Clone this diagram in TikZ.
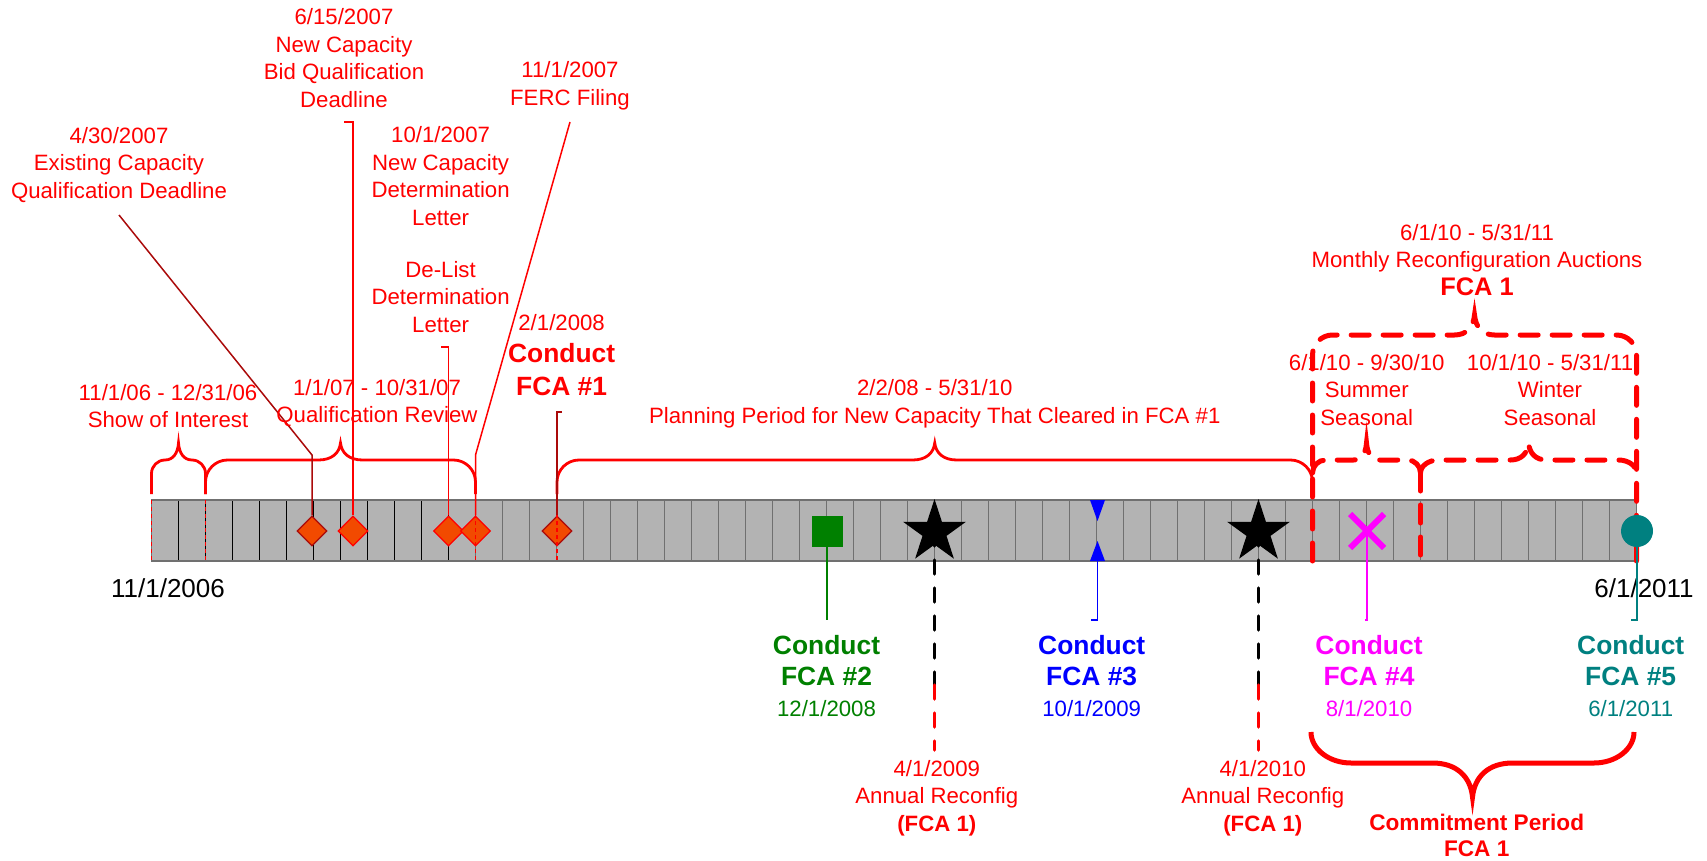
\documentclass[tikz,border=0pt]{standalone}
\usepackage{fontspec}
\setmainfont{Liberation Sans}
\usepackage{xcolor}
\usepackage{tikz}
\usetikzlibrary{shapes.geometric, shapes.misc, positioning}

\definecolor{fcared}{RGB}{255,0,0}
\definecolor{fcagreen}{RGB}{0,128,0}
\definecolor{fcablue}{RGB}{0,0,255}
\definecolor{fcamag}{RGB}{255,0,255}
\definecolor{fcateal}{RGB}{0,128,128}
\definecolor{barfill}{RGB}{179,179,179}
\definecolor{cellline}{RGB}{112,112,112}
\definecolor{diafill}{RGB}{242,74,0}
\definecolor{leaddark}{RGB}{170,10,10}

% curly brace: [style] x1 x2 ybase yflat ytip r
\newcommand{\tlbrace}[7][]{%
  \pgfmathsetmacro\bc{(#2+#3)/2}%
  \pgfmathsetmacro\bh{min(#7,abs(#4-#5))*ifthenelse(#4>#5,1,-1)}%
  \draw[#1] (#2,#4) -- (#2,{#5+(\bh)}) .. controls (#2,{#5+0.45*(\bh)}) and ({#2+0.45*#7},#5) .. ({#2+#7},#5)
    -- ({\bc-#7},#5) .. controls ({\bc-0.4*#7},#5) and ({\bc-0.05*#7},{#5+0.4*(#6-#5)}) .. (\bc,#6)
    .. controls ({\bc+0.05*#7},{#5+0.4*(#6-#5)}) and ({\bc+0.4*#7},#5) .. ({\bc+#7},#5)
    -- ({#3-#7},#5) .. controls ({#3-0.45*#7},#5) and (#3,{#5+0.45*(\bh)}) .. (#3,{#5+(\bh)}) -- (#3,#4);%
}

\begin{document}
\begin{tikzpicture}[x=0.5pt, y=-0.5pt,
    lbl/.style={text=fcared, align=center, inner sep=0pt, font=\fontsize{11.1}{13.75}\selectfont},
    datelbl/.style={text=black, inner sep=0pt, font=\fontsize{13}{15}\selectfont},
    conduct/.style={align=center, inner sep=0pt, font=\fontsize{13.2}{15.7}\selectfont\bfseries},
    lead/.style={fcared, line width=0.75pt},
    leaddk/.style={leaddark, line width=0.75pt},
    bracesolid/.style={fcared, line width=1.4pt},
    bracedash/.style={fcared, line width=2.5pt, line cap=round, dash pattern=on 9pt off 7pt},
    barend/.style={fcared, line width=0.6pt, dash pattern=on 2pt off 1.5pt},
    reconfig/.style={line width=1.75pt, line cap=round, dash pattern=on 7pt off 7pt},
    dia/.style={diamond, fill=diafill, draw=fcared, line width=0.6pt, minimum size=15pt, inner sep=0pt}]
    \useasboundingbox (0,0) rectangle (1707,861);

    % time bar, one cell a month
    \fill[barfill] (151.5,500) rectangle (1636.5,561);
    \foreach \m in {12,...,54} {
        \draw[cellline, line width=0.6pt] ({151.5+27*\m},500) -- ({151.5+27*\m},561);
    }
    \foreach \m in {1,...,11} {
        \draw[black, line width=0.7pt] ({151.5+27*\m},500) -- ({151.5+27*\m},561);
    }
    \draw[cellline, line width=0.7pt] (151.5,500) rectangle (1636.5,561);
    \node[datelbl] (tstart) at (168,588) {11/1/2006};
    \node[datelbl] (tend) at (1644,588) {6/1/2011};

    % braces over the bar
    \tlbrace[bracesolid]{151.5}{205.5}{494}{460}{443}{13.5}
    \tlbrace[bracesolid]{205.5}{475.5}{494}{460}{443}{22}
    \tlbrace[bracesolid]{557}{1312.5}{494}{460}{443}{22}
    \tlbrace[bracedash]{1312.5}{1636.5}{561}{335}{315}{20}
    \tlbrace[bracedash]{1312.5}{1420.5}{473}{460}{443}{13}
    \tlbrace[bracedash]{1420.5}{1636.5}{473}{460}{443}{18}
    \draw[bracedash] (1420.5,473) -- (1420.5,561);
    \tlbrace[fcared, line width=2.5pt]{1311}{1634}{732}{763}{797}{40}

    % qualification markers
    \node[dia, draw=leaddark] (d1) at (312,531) {};
    \node[dia] (d2) at (353,531) {};
    \node[dia] (d3) at (448.5,531) {};
    \node[dia] (d4) at (475.5,531) {};
    \node[dia, draw=leaddark] (d5) at (557,531) {};
    \foreach \x in {151.5,205.5,475.5,557} {
        \draw[barend] (\x,500) -- (\x,561);
    }

    \coordinate (exq) at (119,215);
    \coordinate (exb) at (312,455);
    \coordinate (bqh) at (344,122);
    \coordinate (fercq) at (570,122);
    \coordinate (fercb) at (475.5,455);
    \coordinate (dlh) at (441,347);
    \coordinate (f1h) at (561.5,412);
    \draw[leaddk] (exq) -- (exb) -- (d1);
    \draw[lead] (bqh) -| (d2);
    \draw[lead] (fercq) -- (fercb) -- (d4);
    \draw[lead] (dlh) -| (d3);
    \draw[leaddk] (f1h) -| (d5);

    \node[lbl] (exist) at (119,165) {4/30/2007\\Existing Capacity\\Qualification Deadline};
    \node[lbl] (bidq) at (344,58) {6/15/2007\\New Capacity\\Bid Qualification\\Deadline};
    \node[lbl] (ferc) at (570,86) {11/1/2007\\FERC Filing};
    \node[lbl] (ncdl) at (440.6,176) {10/1/2007\\New Capacity\\Determination\\Letter};
    \node[lbl] (delist) at (440.6,297) {De-List\\Determination\\Letter};
    \node[conduct, text=fcared, font=\fontsize{13.2}{16.3}\selectfont\bfseries] (fca1) at (561.6,355) {{\mdseries\fontsize{11.1}{13.75}\selectfont 2/1/2008}\\Conduct\\FCA \#1};
    \node[lbl] (show) at (168,406) {11/1/06 - 12/31/06\\Show of Interest};
    \node[lbl] (qualrev) at (377,403) {1/1/07 - 10/31/07\\Qualification Review};
    \node[lbl] (plan) at (934.8,404) {2/2/08 - 5/31/10\\Planning Period for New Capacity That Cleared in FCA \#1};
    \node[lbl] (monthly) at (1477,260) {6/1/10 - 5/31/11\\Monthly Reconfiguration Auctions\\{\bfseries\fontsize{12.7}{14.5}\selectfont FCA 1}};
    \node[lbl] (summer) at (1366.7,390) {6/1/10 - 9/30/10\\Summer\\Seasonal};
    \node[lbl] (winter) at (1550,390) {10/1/10 - 5/31/11\\Winter\\Seasonal};

    % auctions and reconfigurations
    \coordinate (s1) at (934.5,532);
    \coordinate (r09) at (934.5,685);
    \coordinate (r09e) at (934.5,750);
    \coordinate (s2) at (1258.5,532);
    \coordinate (r10) at (1258.5,685);
    \coordinate (r10e) at (1258.5,750);
    \draw[reconfig, black] (s1) -- (r09);
    \draw[reconfig, fcared] (r09) -- (r09e);
    \draw[reconfig, black] (s2) -- (r10);
    \draw[reconfig, fcared] (r10) -- (r10e);
    \node[star, star points=5, star point ratio=2.618, fill=black, minimum size=33pt, inner sep=0pt] (st1) at (s1) {};
    \node[star, star points=5, star point ratio=2.618, fill=black, minimum size=33pt, inner sep=0pt] (st2) at (s2) {};

    \node[fill=fcagreen, minimum size=15.5pt, inner sep=0pt] (sq) at (827,531) {};
    \coordinate (sqe) at (827,620);
    \draw[fcagreen, line width=0.75pt] (sq) -- (sqe);

    \coordinate (trb) at (1097.5,561);
    \coordinate (tre) at (1091,620);
    \fill[fcablue] (1090,500) -- (1105,500) -- (1097.5,521) -- cycle;
    \fill[fcablue] (1090,561) -- (1105,561) -- (1097.5,541) -- cycle;
    \draw[fcablue, line width=0.75pt] (trb) |- (tre);

    \node[cross out, draw=fcamag, line width=3pt, minimum size=14pt, inner sep=0pt] (xm) at (1367,531) {};
    \coordinate (xme) at (1365,620);
    \draw[fcamag, line width=0.75pt] (xm.center) |- (xme);

    \node[circle, fill=fcateal, minimum size=16pt, inner sep=0pt] (circ) at (1637,531) {};
    \coordinate (cie) at (1631,620);
    \draw[fcateal, line width=0.75pt] (circ) |- (cie);

    \node[conduct, text=fcagreen] (fca2) at (826.5,676) {Conduct\\FCA \#2\\{\mdseries\fontsize{11.1}{13.75}\selectfont 12/1/2008}};
    \node[conduct, text=fcablue] (fca3) at (1091.7,676) {Conduct\\FCA \#3\\{\mdseries\fontsize{11.1}{13.75}\selectfont 10/1/2009}};
    \node[conduct, text=fcamag] (fca4) at (1369,676) {Conduct\\FCA \#4\\{\mdseries\fontsize{11.1}{13.75}\selectfont 8/1/2010}};
    \node[conduct, text=fcateal] (fca5) at (1630.7,676) {Conduct\\FCA \#5\\{\mdseries\fontsize{11.1}{13.75}\selectfont 6/1/2011}};
    \node[lbl] (rec09) at (936.8,798) {4/1/2009\\Annual Reconfig\\{\bfseries (FCA 1)}};
    \node[lbl] (rec10) at (1262.8,798) {4/1/2010\\Annual Reconfig\\{\bfseries (FCA 1)}};
    \node[lbl, font=\fontsize{11.3}{13}\selectfont\bfseries] (commit) at (1476.7,835) {Commitment Period\\FCA 1};
\end{tikzpicture}
\end{document}
